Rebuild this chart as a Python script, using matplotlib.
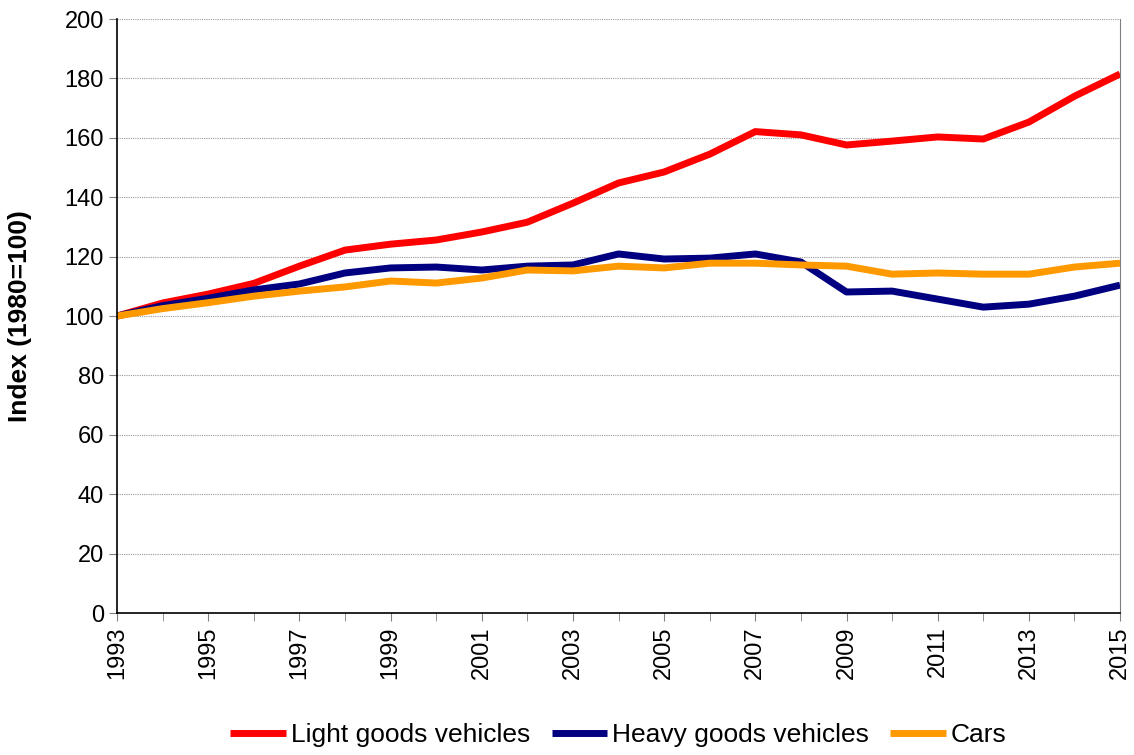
import matplotlib.pyplot as plt
from matplotlib.ticker import MultipleLocator

years = list(range(1993, 2016))
light_goods = [100, 104.4, 107.4, 111, 116.8, 122.2, 124.2, 125.6, 128.3, 131.6, 138, 144.8,
               148.5, 154.5, 162.1, 161, 157.6, 158.9, 160.3, 159.6, 165.3, 174, 181.5]
heavy_goods = [100, 103.5, 106, 108.8, 110.8, 114.5, 116.2, 116.5, 115.5, 116.8, 117.2, 120.9,
               119.2, 119.5, 120.9, 118.2, 108.1, 108.4, 105.7, 103, 104, 106.7, 110.4]
cars = [100, 102.5, 104.5, 106.7, 108.4, 109.8, 111.8, 111.1, 112.8, 115.5, 115.2, 116.8,
        116.2, 117.8, 117.8, 117.2, 116.8, 114.1, 114.5, 114.1, 114.1, 116.5, 117.8]

SERIES = [('Light goods vehicles', light_goods, '#ff0000'),
          ('Heavy goods vehicles', heavy_goods, '#000080'),
          ('Cars', cars, '#ff9900')]

plt.rcParams['font.family'] = ['Liberation Sans', 'DejaVu Sans']

fig = plt.figure(figsize=(11.34, 7.55), dpi=100)
ax = fig.add_axes([0.1032, 0.188, 0.8845, 0.7868])

for label, values, color in SERIES:
    ax.plot(years, values, color=color, lw=5, label=label, solid_capstyle='butt')

ax.set_xlim(1993, 2015)
ax.set_ylim(0, 200)
ax.yaxis.set_major_locator(MultipleLocator(20))
ax.set_xticks(years[::2])
ax.set_xticks(years, minor=True)
ax.grid(axis='y', color='#999999', ls=(0, (1, 1)), lw=0.8)
ax.set_axisbelow(True)

ax.tick_params(axis='x', which='both', direction='out', length=6, color='#808080',
               labelsize=17, rotation=90)
ax.tick_params(axis='y', direction='out', length=6, color='#808080', labelsize=17)
for side in ['left', 'bottom']:
    ax.spines[side].set_color('black')
    ax.spines[side].set_linewidth(1.2)
ax.spines['right'].set_color('#808080')
ax.spines['top'].set_visible(False)

# 纵轴说明放在图的最左边。
ax.set_ylabel('Index (1980=100)', fontsize=19, fontweight='bold')
ax.yaxis.set_label_coords(-0.085, 0.5)

ax.legend(loc='center', bbox_to_anchor=(0.5, -0.205), ncol=3, frameon=False,
          fontsize=19, handlelength=2.1, handletextpad=0.2, columnspacing=0.8)

fig.savefig('out.png', dpi=100)
